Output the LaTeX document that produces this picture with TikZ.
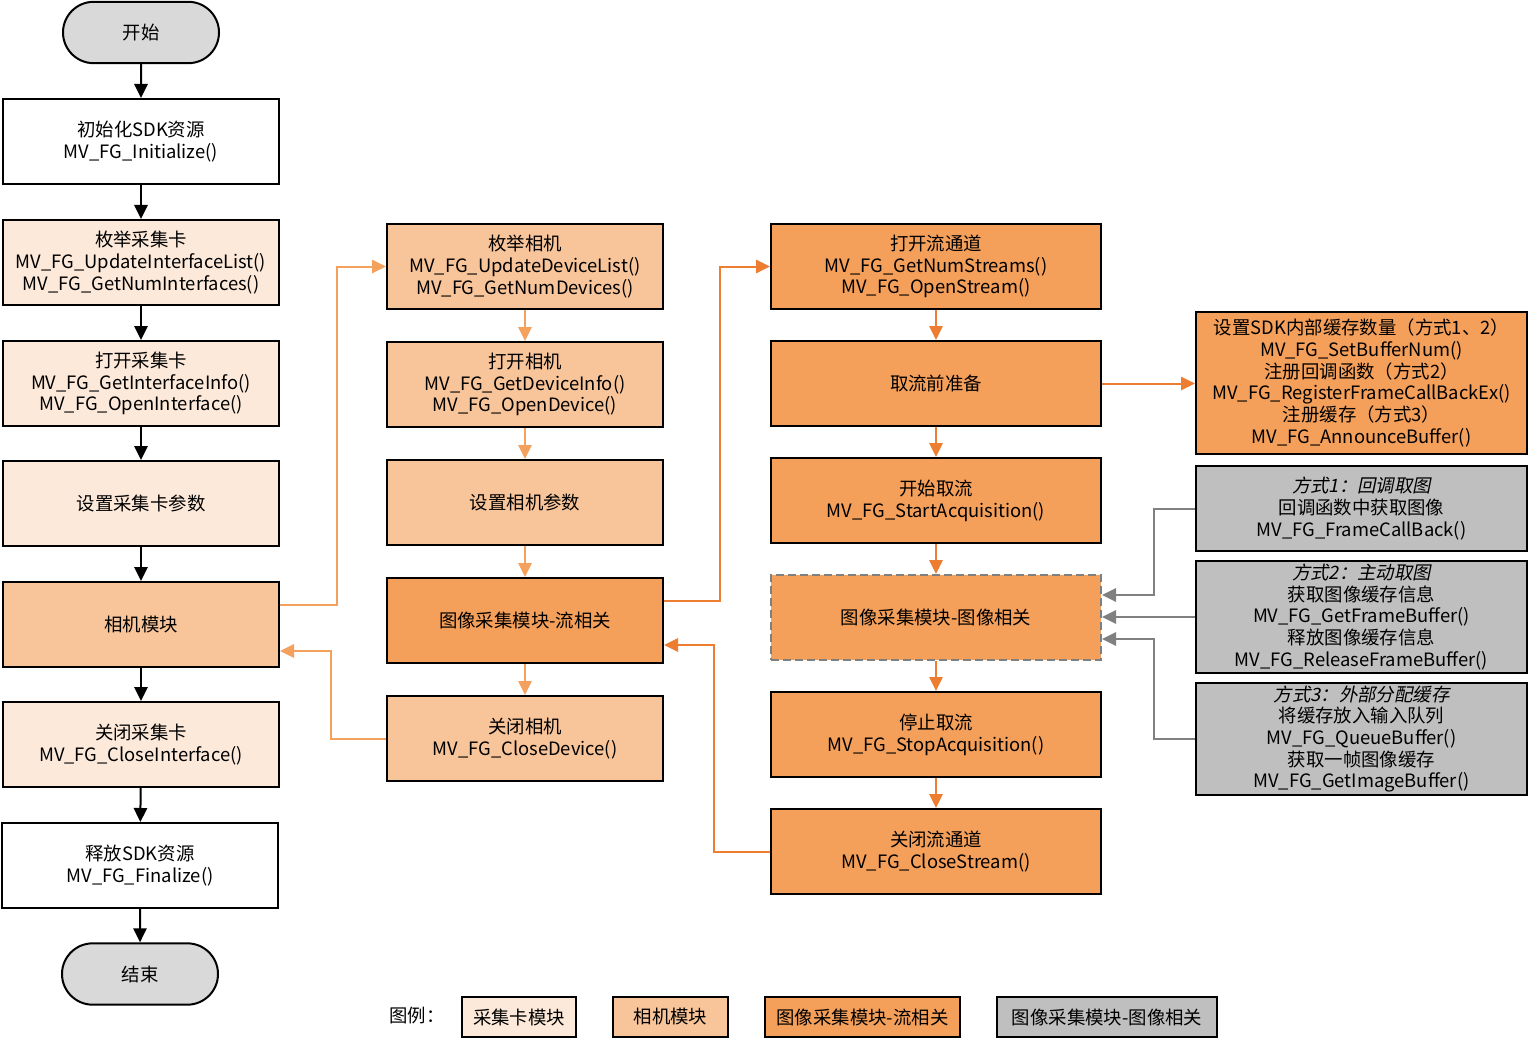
\documentclass[tikz,border=0pt]{standalone}
\usepackage{fontspec}
\setmainfont{Noto Sans CJK SC}
\newfontfamily\slantfont[FakeSlant=0.2]{Noto Sans CJK SC}
\usetikzlibrary{arrows.meta,shapes.misc,calc}

\definecolor{cardfill}{HTML}{FCE9DA}
\definecolor{camfill}{HTML}{F8C499}
\definecolor{streamfill}{HTML}{F49F5A}
\definecolor{imgfill}{HTML}{BFBFBF}
\definecolor{termfill}{HTML}{D9D9D9}
\definecolor{lineLight}{HTML}{F4A15D}
\definecolor{lineDark}{HTML}{ED7D31}
\definecolor{lineGray}{HTML}{808080}
\definecolor{dashGray}{HTML}{7F7F7F}

\tikzset{
  base/.style={draw=black, line width=1.5pt, align=center, inner sep=0pt,
    font=\fontsize{13.8pt}{16.3pt}\selectfont, text=black},
  terminal/.style={base, rounded rectangle, fill=termfill,
    minimum width=117pt, minimum height=46pt},
  plainbox/.style={base, fill=white, minimum width=207pt, minimum height=63.75pt},
  cardbox/.style={base, fill=cardfill, minimum width=207pt, minimum height=63.75pt},
  cambox/.style={base, fill=camfill, minimum width=207pt, minimum height=63.75pt},
  streambox/.style={base, fill=streamfill, minimum width=247.5pt, minimum height=63.75pt},
  imagebox/.style={base, fill=streamfill, draw=dashGray, dash pattern=on 6pt off 3pt,
    minimum width=247.5pt, minimum height=63.75pt},
  sidebox/.style={base, minimum width=248.25pt},
  legbox/.style={base, minimum height=30pt},
  tipA/.style={-{Triangle[length=10.5pt,width=10pt]}},
  blackflow/.style={tipA, draw=black, line width=1.5pt},
  lightflow/.style={tipA, draw=lineLight, line width=1.5pt},
  darkflow/.style={tipA, draw=lineDark, line width=1.5pt},
  grayflow/.style={tipA, draw=lineGray, line width=1.5pt},
}

\begin{document}
\begin{tikzpicture}[x=0.75pt, y=-0.75pt]
\useasboundingbox (0,0) rectangle (1528,1038);

% capture card column
\node[terminal]  (start) at (141,32.5)  {开始};
\node[plainbox]  (init)  at (141,141.5) {初始化SDK资源\\MV\_FG\_Initialize()};
\node[cardbox]   (enumif) at (141,262.5) {枚举采集卡\\MV\_FG\_UpdateInterfaceList()\\MV\_FG\_GetNumInterfaces()};
\node[cardbox]   (openif) at (141,383.5) {打开采集卡\\MV\_FG\_GetInterfaceInfo()\\MV\_FG\_OpenInterface()};
\node[cardbox]   (setif)  at (141,503.5) {设置采集卡参数};
\node[cambox]    (cammod) at (141,624.5) {相机模块};
\node[cardbox]   (closeif) at (141,744.5) {关闭采集卡\\MV\_FG\_CloseInterface()};
\node[plainbox]  (fini)  at (140,865.5) {释放SDK资源\\MV\_FG\_Finalize()};
\node[terminal]  (stop)  at (140,974)   {结束};

% camera column
\node[cambox]    (enumdev) at (525,266.5) {枚举相机\\MV\_FG\_UpdateDeviceList()\\MV\_FG\_GetNumDevices()};
\node[cambox]    (opendev) at (525,384.5) {打开相机\\MV\_FG\_GetDeviceInfo()\\MV\_FG\_OpenDevice()};
\node[cambox]    (setdev)  at (525,502.5) {设置相机参数};
\node[cambox, fill=streamfill] (streammod) at (525,620.5) {图像采集模块-流相关};
\node[cambox]    (closedev) at (525,738.5) {关闭相机\\MV\_FG\_CloseDevice()};

% stream column
\node[streambox] (openst)  at (936,266.5) {打开流通道\\MV\_FG\_GetNumStreams()\\MV\_FG\_OpenStream()};
\node[streambox] (prep)    at (936,383.5) {取流前准备};
\node[streambox] (startacq) at (936,500.5) {开始取流\\MV\_FG\_StartAcquisition()};
\node[imagebox]  (imgmod)  at (936,617.5) {图像采集模块-图像相关};
\node[streambox] (stopacq) at (936,734.5) {停止取流\\MV\_FG\_StopAcquisition()};
\node[streambox] (closest) at (936,851.5) {关闭流通道\\MV\_FG\_CloseStream()};

% buffer options
\node[sidebox, fill=streamfill, minimum height=106.5pt] (bufset) at (1361.5,383)
  {设置SDK内部缓存数量（方式1、2）\\MV\_FG\_SetBufferNum()\\注册回调函数（方式2）\\MV\_FG\_RegisterFrameCallBackEx()\\注册缓存（方式3）\\MV\_FG\_AnnounceBuffer()};
\node[sidebox, fill=imgfill, minimum height=63.75pt] (way1) at (1361.5,508.5)
  {{\slantfont 方式1：回调取图}\\回调函数中获取图像\\MV\_FG\_FrameCallBack()};
\node[sidebox, fill=imgfill, minimum height=84pt] (way2) at (1361.5,617)
  {{\slantfont 方式2：主动取图}\\获取图像缓存信息\\MV\_FG\_GetFrameBuffer()\\释放图像缓存信息\\MV\_FG\_ReleaseFrameBuffer()};
\node[sidebox, fill=imgfill, minimum height=84pt] (way3) at (1361.5,739)
  {{\slantfont 方式3：外部分配缓存}\\将缓存放入输入队列\\MV\_FG\_QueueBuffer()\\获取一帧图像缓存\\MV\_FG\_GetImageBuffer()};

% legend
\node[font=\fontsize{13.8pt}{16.3pt}\selectfont] (legtitle) at (417,1016) {图例：};
\node[legbox, fill=cardfill, minimum width=85.5pt]    (leg1) at (519,1017)   {采集卡模块};
\node[legbox, fill=camfill, minimum width=86.25pt]    (leg2) at (670.5,1017) {相机模块};
\node[legbox, fill=streamfill, minimum width=146.25pt] (leg3) at (862.5,1017) {图像采集模块-流相关};
\node[legbox, fill=imgfill, minimum width=165pt]      (leg4) at (1107,1017)  {图像采集模块-图像相关};

% main sequence
\draw[blackflow] (start) -- (init);
\draw[blackflow] (init) -- (enumif);
\draw[blackflow] (enumif) -- (openif);
\draw[blackflow] (openif) -- (setif);
\draw[blackflow] (setif) -- (cammod);
\draw[blackflow] (cammod) -- (closeif);
\draw[blackflow] (closeif) -- (fini);
\draw[blackflow] (fini) -- (stop);

% camera sequence
\draw[lightflow] (enumdev) -- (opendev);
\draw[lightflow] (opendev) -- (setdev);
\draw[lightflow] (setdev) -- (streammod);
\draw[lightflow] (streammod) -- (closedev);
\draw[lightflow] ($(cammod.east)+(0,-19.5)$) -- ++(57,0) |- (enumdev.west);
\draw[lightflow] (closedev.west) -- ++(-55,0) |- ($(cammod.east)+(0,26.5)$);

% stream sequence
\draw[darkflow] (openst) -- (prep);
\draw[darkflow] (prep) -- (startacq);
\draw[darkflow] (startacq) -- (imgmod);
\draw[darkflow] (imgmod) -- (stopacq);
\draw[darkflow] (stopacq) -- (closest);
\draw[darkflow] ($(streammod.east)+(0,-19.5)$) -- ++(56,0) |- (openst.west);
\draw[darkflow] (closest.west) -- ++(-56,0) |- ($(streammod.east)+(0,24.5)$);
\draw[darkflow] (prep.east) -- (prep.east -| bufset.west);

% buffer options into image module
\draw[grayflow] (way1.west) -- ++(-41,0) |- ($(imgmod.east)+(0,-22.5)$);
\draw[grayflow] (way2.west) -- (way2.west -| imgmod.east);
\draw[grayflow] (way3.west) -- ++(-41,0) |- ($(imgmod.east)+(0,21.5)$);
\end{tikzpicture}
\end{document}
